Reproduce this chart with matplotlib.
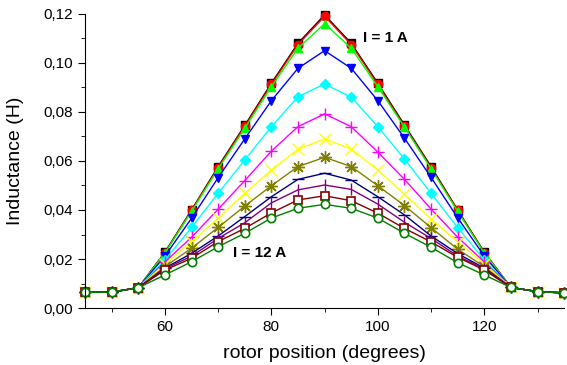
import matplotlib.pyplot as plt
import matplotlib.ticker as mticker

plt.rcParams['font.family'] = ['Liberation Sans', 'DejaVu Sans']

# rotor position (degrees)
pos = [45, 50, 55, 60, 65, 70, 75, 80, 85, 90, 95, 100, 105, 110, 115, 120, 125, 130, 135]

# ends are the same for every current
left = [0.0064, 0.0065, 0.0083]
right = [0.0084, 0.0067, 0.0062]

# middle part (60..120) for I = 1 .. 12 A
mid_1 = [0.0228, 0.0400, 0.0577, 0.0745, 0.0917, 0.1080, 0.1196, 0.1080, 0.0917, 0.0747, 0.0577, 0.0400, 0.0228]
mid_2 = [0.0226, 0.0398, 0.0573, 0.0741, 0.0912, 0.1075, 0.1190, 0.1075, 0.0912, 0.0742, 0.0573, 0.0398, 0.0226]
mid_3 = [0.0224, 0.0394, 0.0568, 0.0733, 0.0903, 0.1060, 0.1160, 0.1060, 0.0903, 0.0738, 0.0568, 0.0394, 0.0224]
mid_4 = [0.0212, 0.0366, 0.0532, 0.0690, 0.0846, 0.0978, 0.1050, 0.0978, 0.0846, 0.0693, 0.0533, 0.0368, 0.0212]
mid_5 = [0.0196, 0.0329, 0.0468, 0.0604, 0.0740, 0.0862, 0.0914, 0.0860, 0.0740, 0.0608, 0.0468, 0.0328, 0.0196]
mid_6 = [0.0188, 0.0289, 0.0403, 0.0520, 0.0640, 0.0740, 0.0792, 0.0740, 0.0636, 0.0525, 0.0404, 0.0289, 0.0188]
mid_7 = [0.0180, 0.0271, 0.0366, 0.0468, 0.0563, 0.0648, 0.0690, 0.0648, 0.0563, 0.0464, 0.0363, 0.0270, 0.0180]
mid_8 = [0.0169, 0.0244, 0.0329, 0.0416, 0.0499, 0.0577, 0.0615, 0.0577, 0.0499, 0.0418, 0.0328, 0.0240, 0.0169]
mid_9 = [0.0163, 0.0223, 0.0294, 0.0373, 0.0454, 0.0525, 0.0550, 0.0522, 0.0454, 0.0380, 0.0294, 0.0222, 0.0163]
mid_10 = [0.0160, 0.0212, 0.0284, 0.0348, 0.0429, 0.0482, 0.0502, 0.0484, 0.0424, 0.0350, 0.0284, 0.0212, 0.0160]
mid_11 = [0.0155, 0.0203, 0.0271, 0.0325, 0.0388, 0.0441, 0.0458, 0.0438, 0.0387, 0.0325, 0.0270, 0.0207, 0.0155]
mid_12 = [0.0135, 0.0189, 0.0250, 0.0305, 0.0367, 0.0407, 0.0423, 0.0407, 0.0367, 0.0305, 0.0248, 0.0185, 0.0135]

mids = [mid_1, mid_2, mid_3, mid_4, mid_5, mid_6, mid_7, mid_8, mid_9, mid_10, mid_11, mid_12]

# (color, marker, filled)
styles = [
    ('#000000', 's', True),
    ('#ff0000', 'o', True),
    ('#00ff00', '^', True),
    ('#0000ff', 'v', True),
    ('#00ffff', 'D', True),
    ('#ff00ff', '+', True),
    ('#ffff00', 'x', True),
    ('#808000', (8, 2, 0), True),
    ('#000080', '_', True),
    ('#800080', '|', True),
    ('#800000', 's', False),
    ('#008000', 'o', False),
]

fig = plt.figure(figsize=(5.67, 3.65), dpi=100)
ax = fig.add_axes([0.150, 0.156, 0.845, 0.806])

for mid, (c, m, filled) in zip(mids, styles):
    vals = left + mid + right
    ms = 6
    if m == 'D':
        ms = 5
    if m in ['+', 'x', '_', '|']:
        ms = 8
    if m == (8, 2, 0):
        ms = 9
    ax.plot(pos, vals, color=c, lw=1, marker=m, ms=ms,
            mfc=c if filled else 'white', mec=c, mew=1.2 if not filled else 1,
            clip_on=False)

ax.set_xlim(45, 135)
ax.set_ylim(0, 0.12)
ax.xaxis.set_major_locator(mticker.MultipleLocator(20))
ax.xaxis.set_minor_locator(mticker.MultipleLocator(10))
ax.yaxis.set_major_locator(mticker.MultipleLocator(0.02))
ax.yaxis.set_minor_locator(mticker.MultipleLocator(0.01))
ax.yaxis.set_major_formatter(mticker.FuncFormatter(lambda v, p: ('%.2f' % v).replace('.', ',')))

ax.spines['top'].set_visible(False)
ax.spines['right'].set_visible(False)
ax.tick_params(which='major', direction='out', length=5, labelsize=11)
ax.tick_params(which='minor', direction='out', length=3)

ax.set_xlabel('rotor position (degrees)', fontsize=14, labelpad=8)
ax.set_ylabel('Inductance (H)', fontsize=14, labelpad=14)

ax.text(97.2, 0.110, 'I = 1 A', fontsize=11, fontweight='bold', va='center')
ax.text(72.8, 0.0224, 'I = 12 A', fontsize=11, fontweight='bold', va='center')

fig.savefig('out.png', dpi=100)
